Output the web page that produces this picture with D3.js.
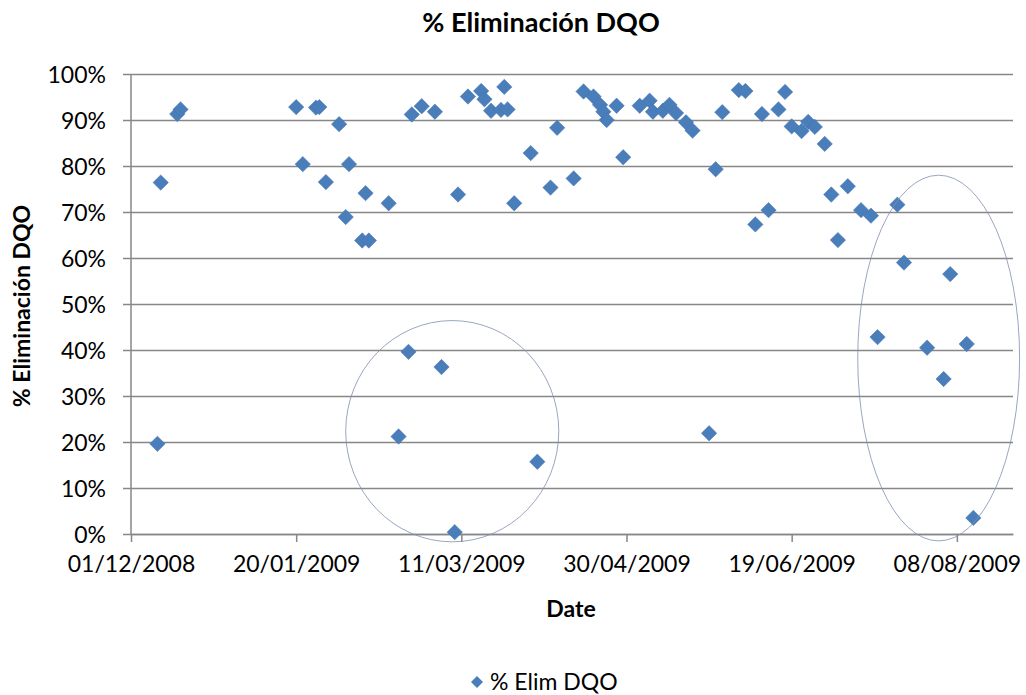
<!DOCTYPE html>
<html><head><meta charset="utf-8">
<script src="https://cdn.jsdelivr.net/npm/d3@7"></script>
<style>
body{margin:0;background:#fff}
svg{display:block}
text{font-family:Lato,"Open Sans",sans-serif;fill:#000}
</style>
</head><body>
<svg id="chart" width="1026" height="695"></svg>
<script>
// ---- data ----
const sampleDates = [
"2008-12-09","2008-12-10","2008-12-15","2008-12-16",
"2009-01-20","2009-01-22","2009-01-26","2009-01-27","2009-01-29",
"2009-02-02","2009-02-04","2009-02-05","2009-02-09","2009-02-10","2009-02-11","2009-02-17",
"2009-02-20","2009-02-23","2009-02-24","2009-02-27",
"2009-03-03","2009-03-05","2009-03-09","2009-03-10","2009-03-13","2009-03-17","2009-03-18",
"2009-03-20","2009-03-23","2009-03-24","2009-03-25","2009-03-27",
"2009-04-01","2009-04-03","2009-04-07","2009-04-09","2009-04-14","2009-04-17","2009-04-20",
"2009-04-22","2009-04-23","2009-04-24","2009-04-27","2009-04-29",
"2009-05-04","2009-05-07","2009-05-08","2009-05-11","2009-05-13","2009-05-15","2009-05-18",
"2009-05-20","2009-05-25","2009-05-27","2009-05-29",
"2009-06-03","2009-06-05","2009-06-08","2009-06-10","2009-06-12","2009-06-15","2009-06-17",
"2009-06-19","2009-06-22","2009-06-24","2009-06-26","2009-06-29",
"2009-07-01","2009-07-03","2009-07-06","2009-07-10","2009-07-13","2009-07-15","2009-07-21",
"2009-07-23","2009-07-30",
"2009-08-04","2009-08-06","2009-08-11","2009-08-13"
];
const elimDQO = [
0.196,0.764,0.913,0.923,
0.928,0.804,0.927,0.928,0.765,
0.891,0.689,0.804,0.638,0.741,0.638,0.719,
0.212,0.396,0.912,0.930,
0.918,0.363,0.004,0.738,0.951,0.963,0.945,
0.920,0.922,0.972,0.923,0.719,
0.828,0.157,0.753,0.883,0.773,0.962,0.951,
0.933,0.918,0.900,0.931,0.819,
0.931,0.942,0.918,0.920,0.933,0.915,0.895,
0.877,0.219,0.793,0.917,
0.965,0.963,0.673,0.913,0.704,0.923,0.961,
0.886,0.876,0.896,0.885,0.848,
0.738,0.639,0.756,0.704,0.692,0.428,0.716,
0.590,0.405,
0.337,0.565,0.413,0.035
];
const xTickLabels = ["01/12/2008","20/01/2009","11/03/2009","30/04/2009","19/06/2009","08/08/2009"];
const xAxisEnd = "25/08/2009";
const yTickValues = [0,0.1,0.2,0.3,0.4,0.5,0.6,0.7,0.8,0.9,1.0];
// highlight ellipses (bounding boxes in data units)
const ellipseFrom = ["2009-02-04T00:00Z","2009-07-09T00:00Z"];
const ellipseTo   = ["2009-04-09T12:00Z","2009-08-27T00:00Z"];
const ellipseLow  = [-0.017,-0.015];
const ellipseHigh = [0.464,0.780];

const chartTitle = "% Eliminación DQO";
const yTitle = "% Eliminación  DQO";
const xTitle = "Date";
const seriesName = "% Elim DQO";

// ---- drawing ----
const parseTick = d3.utcParse("%d/%m/%Y");
const parseISO = d3.isoParse;
const svg = d3.select("#chart");
const L = 131, R = 1013, T = 74, B = 534;

const x = d3.scaleUtc()
  .domain([parseTick(xTickLabels[0]), parseTick(xAxisEnd)])
  .range([L, R]);
const y = d3.scaleLinear().domain([0, 1]).range([B, T]);

const gridColor = "#878787";

// horizontal gridlines + y axis
const yAxis = d3.axisLeft(y).tickValues(yTickValues).tickFormat(d3.format(".0%"))
  .tickSize(R - L + 8).tickPadding(0);
const gy = svg.append("g").attr("transform", `translate(${R},0)`).call(yAxis);
gy.select(".domain").remove();
gy.selectAll(".tick line").attr("stroke", gridColor).attr("stroke-width", 1.5);
gy.selectAll(".tick text").attr("x", -(R - L) - 25).attr("dy", "0.36em")
  .style("font-size", "23px").style("text-anchor", "end");

// x axis
const xAxis = d3.axisBottom(x).tickValues(xTickLabels.map(parseTick))
  .tickFormat(d3.utcFormat("%d/%m/%Y")).tickSize(8).tickSizeOuter(0).tickPadding(14);
const gx = svg.append("g").attr("transform", `translate(0,${B})`).call(xAxis);
gx.select(".domain").attr("stroke", gridColor).attr("stroke-width", 1.5);
gx.selectAll(".tick line").attr("stroke", gridColor).attr("stroke-width", 1.5);
gx.selectAll(".tick text").style("font-size", "23px");

// y axis line
svg.append("line").attr("x1", L).attr("x2", L).attr("y1", T).attr("y2", B)
  .attr("stroke", gridColor).attr("stroke-width", 1.5);

// data points (square rotated 45deg = Excel diamond)
const diamond = d3.symbol().type(d3.symbolSquare).size(118);
const pts = sampleDates.map((d, i) => ({date: parseISO(d), v: elimDQO[i]}));
svg.append("g").selectAll("path").data(pts).join("path")
  .attr("d", diamond)
  .attr("transform", d => `translate(${x(d.date)},${y(d.v)}) rotate(45)`)
  .attr("fill", "#4a7ebb").attr("stroke", "#4573b0").attr("stroke-width", 0.5);

// highlight ellipses
svg.append("g").selectAll("ellipse").data(ellipseFrom.map((f, i) => i)).join("ellipse")
  .attr("cx", i => (x(parseISO(ellipseFrom[i])) + x(parseISO(ellipseTo[i]))) / 2)
  .attr("cy", i => (y(ellipseLow[i]) + y(ellipseHigh[i])) / 2)
  .attr("rx", i => (x(parseISO(ellipseTo[i])) - x(parseISO(ellipseFrom[i]))) / 2)
  .attr("ry", i => (y(ellipseLow[i]) - y(ellipseHigh[i])) / 2)
  .attr("fill", "none").attr("stroke", "#7f8fb0").attr("stroke-width", 0.8);

// titles
svg.append("text").attr("x", 541).attr("y", 32).attr("text-anchor", "middle")
  .style("font-size", "27px").style("font-weight", "bold").text(chartTitle);
svg.append("text").attr("transform", "translate(30,306) rotate(-90)").attr("text-anchor", "middle")
  .style("font-size", "23px").style("font-weight", "bold").text(yTitle);
svg.append("text").attr("x", 571).attr("y", 617).attr("text-anchor", "middle")
  .style("font-size", "23px").style("font-weight", "bold").text(xTitle);

// legend
const lg = svg.append("g").attr("transform", "translate(477,682)");
lg.append("path").attr("d", d3.symbol().type(d3.symbolSquare).size(72))
  .attr("transform", "rotate(45)").attr("fill", "#4a7ebb");
lg.append("text").attr("x", 13).attr("dy", "0.36em").style("font-size", "23px").text(seriesName);
</script>
</body></html>
